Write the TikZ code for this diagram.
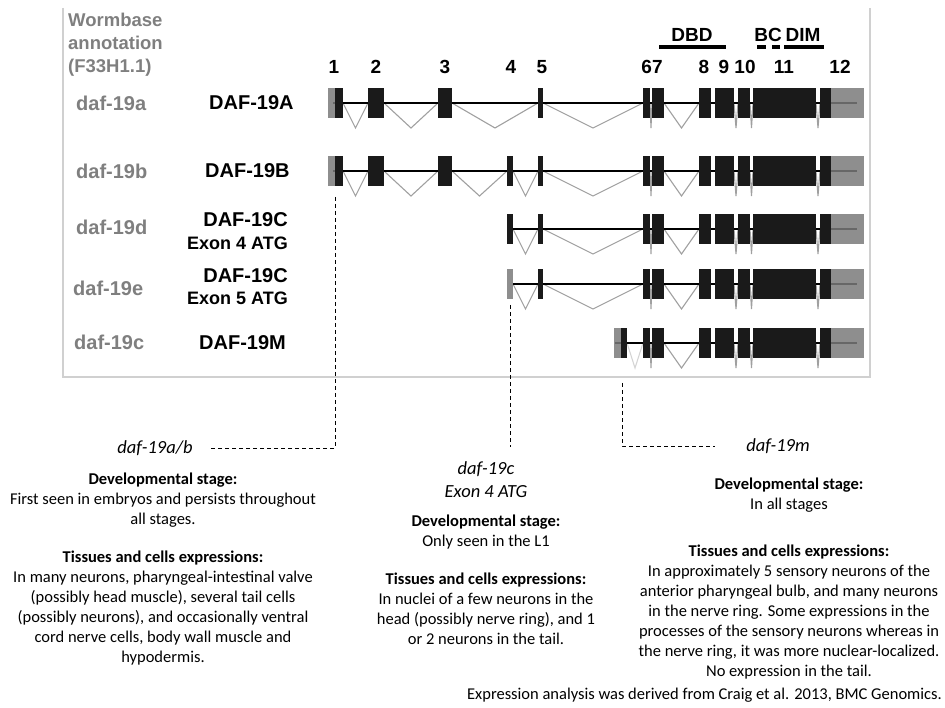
\documentclass[tikz,border=0pt]{standalone}
\usepackage{fontspec}
\setmainfont{Carlito}
\setsansfont{Liberation Sans}
\usetikzlibrary{positioning,calc}

\definecolor{exonblack}{HTML}{1A1A1A}
\definecolor{utrgray}{HTML}{7A7A7A}
\definecolor{introngray}{HTML}{A0A0A0}
\definecolor{isogray}{HTML}{7F7F7F}
\definecolor{framegray}{HTML}{D0D0D0}

\newcommand{\genefont}[1]{\sffamily\bfseries\fontsize{#1}{23}\selectfont}
\newcommand{\bodyfont}{\fontsize{16.5}{20}\selectfont}

% one row of the gene model: centre y, then left/right pairs
\newcommand{\exonrow}[2]{\edef\rowlist{#2}\foreach \l/\r in \rowlist {\fill[exon] (\l,#1-15) rectangle (\r,#1+15);}}
\newcommand{\utrrow}[2]{\edef\rowlist{#2}\foreach \l/\r in \rowlist {\fill[utr] (\l,#1-15) rectangle (\r,#1+15);}}
\newcommand{\intronrow}[3][intron]{\edef\rowlist{#3}\foreach \l/\r in \rowlist {\draw[#1] (\l,#2) -- ({(\l+\r)/2},#2+25) -- (\r,#2);}}

\newcommand{\tailexons}{643/650,652/664,699/711,715/734,738/750,753/816,820/831}
\newcommand{\tailintrons}{650/652,664/699,734/738,750/753,816/820}

\tikzset{
  exon/.style={fill=exonblack},
  utr/.style={fill=utrgray,fill opacity=.85},
  intron/.style={draw=introngray,line width=1.1pt},
  paleintron/.style={draw=introngray!45,line width=1.1pt},
  backbone/.style={line width=1.8pt},
  isolabel/.style={anchor=west,text=isogray,font=\genefont{20},inner sep=0pt},
  protlabel/.style={font=\genefont{20},inner sep=0pt},
  atglabel/.style={anchor=east,font=\genefont{18},inner sep=0pt},
  exonnum/.style={font=\genefont{19},inner sep=0pt},
  domainbar/.style={line width=4pt},
  link/.style={dash pattern=on 4pt off 3pt,line width=1pt},
  formlabel/.style={font=\itshape\fontsize{18.5}{23}\selectfont,inner sep=0pt,align=center},
  notes/.style={font=\bodyfont,inner sep=0pt,align=center,anchor=north}
}

\begin{document}
\begin{tikzpicture}[x=1pt,y=-1pt]
  \useasboundingbox (0,0) rectangle (945,708);

  % frame round the gene models
  \draw[framegray,line width=1.4pt] (63,8) -- (63,377) -- (870,377) -- (870,8);

  \node[anchor=north west,align=left,text=isogray,font=\genefont{18.5},inner sep=0pt] (wormbase) at (68,13) {Wormbase\\annotation\\(F33H1.1)};

  % exon numbers
  \foreach \x/\n in {334/1,376/2,445/3,511/4,542/5,652/67,704/8,724/9,745/10,784/11,840/12}
    \node[exonnum] (num\n) at (\x,67) {\n};

  % domains
  \node[exonnum] (dbd) at (692,35) {DBD};
  \node[exonnum] (bc) at (768,35) {BC};
  \node[exonnum] (dim) at (803,35) {DIM};
  \draw[domainbar] (659,47) -- (726,47);
  \draw[domainbar] (757,47) -- (766,47);
  \draw[domainbar] (772,47) -- (780,47);
  \draw[domainbar] (784,47) -- (824,47);

  % isoform names
  \node[isolabel] (iso19a) at (76,103) {daf-19a};
  \node[isolabel] (iso19b) at (76,171) {daf-19b};
  \node[isolabel] (iso19d) at (76,227) {daf-19d};
  \node[isolabel] (iso19e) at (73,288) {daf-19e};
  \node[isolabel] (iso19c) at (74,342) {daf-19c};

  \node[protlabel,anchor=west] (protA) at (209,103) {DAF-19A};
  \node[protlabel,anchor=west] (protB) at (205,171) {DAF-19B};
  \node[protlabel,anchor=east] (protC4) at (288,220) {DAF-19C};
  \node[atglabel] (atg4) at (288,243) {Exon 4 ATG};
  \node[protlabel,anchor=east] (protC5) at (288,276) {DAF-19C};
  \node[atglabel] (atg5) at (288,298) {Exon 5 ATG};
  \node[protlabel,anchor=west] (protM) at (199,343) {DAF-19M};

  % daf-19a
  \intronrow{103}{343/368,384/438,452/538,543/643,\tailintrons}
  \draw[backbone] (333,103) -- (857,103);
  \exonrow{103}{335/343,368/384,438/452,538/543,\tailexons}
  \utrrow{103}{328/335,831/864}

  % daf-19b
  \intronrow{171}{343/368,384/438,452/507,513/538,543/643,\tailintrons}
  \draw[backbone] (333,171) -- (857,171);
  \exonrow{171}{335/343,368/384,438/452,507/513,538/543,\tailexons}
  \utrrow{171}{328/335,831/864}

  % daf-19d
  \intronrow{229}{513/538,543/643,\tailintrons}
  \draw[backbone] (508,229) -- (857,229);
  \exonrow{229}{507/513,538/543,\tailexons}
  \utrrow{229}{831/864}

  % daf-19e
  \intronrow{284}{513/538,543/643,\tailintrons}
  \draw[backbone] (513,284) -- (857,284);
  \exonrow{284}{538/543,\tailexons}
  \utrrow{284}{507/513,831/864}

  % daf-19c
  \intronrow[paleintron]{343}{627/643}
  \intronrow{343}{\tailintrons}
  \draw[backbone] (615,343) -- (857,343);
  \exonrow{343}{621/627,\tailexons}
  \utrrow{343}{614/621,831/864}

  % expression forms
  \coordinate (abstart) at (335,197);
  \coordinate (cstart) at (510,305);
  \coordinate (mstart) at (622,383);
  \node[formlabel] (lab19ab) at (155,448) {daf-19a/b};
  \node[formlabel] (lab19c) at (486,479.5) {daf-19c\\Exon 4 ATG};
  \node[formlabel] (lab19m) at (778,446) {daf-19m};
  \draw[link,shorten >=16pt] (abstart) |- (lab19ab.east);
  \draw[link,shorten >=14pt] (cstart) -- (cstart |- lab19c.north);
  \draw[link,shorten >=31pt] (mstart) |- (lab19m.west);

  \node[notes] (devab) at (163,473) {\textbf{Developmental stage:}\\First seen in embryos and persists throughout\\all stages.};
  \node[notes] (tisab) at (163,551) {\textbf{Tissues and cells expressions:}\\In many neurons, pharyngeal-intestinal valve\\(possibly head muscle), several tail cells\\(possibly neurons), and occasionally ventral\\cord nerve cells, body wall muscle and\\hypodermis.};
  \node[notes] (devc) at (486,515) {\textbf{Developmental stage:}\\Only seen in the L1};
  \node[notes] (tisc) at (486,573) {\textbf{Tissues and cells expressions:}\\In nuclei of a few neurons in the\\head (possibly nerve ring), and 1\\or 2 neurons in the tail.};
  \node[notes] (devm) at (789,478) {\textbf{Developmental stage:}\\In all stages};
  \node[notes] (tism) at (789,545) {\textbf{Tissues and cells expressions:}\\In approximately 5 sensory neurons of the\\anterior pharyngeal bulb, and many neurons\\in the nerve ring. Some expressions in the\\processes of the sensory neurons whereas in\\the nerve ring, it was more nuclear-localized.\\No expression in the tail.};

  \node[anchor=east,font=\bodyfont,inner sep=0pt] (source) at (942,695) {Expression analysis was derived from Craig et al. 2013, BMC Genomics.};
\end{tikzpicture}
\end{document}
